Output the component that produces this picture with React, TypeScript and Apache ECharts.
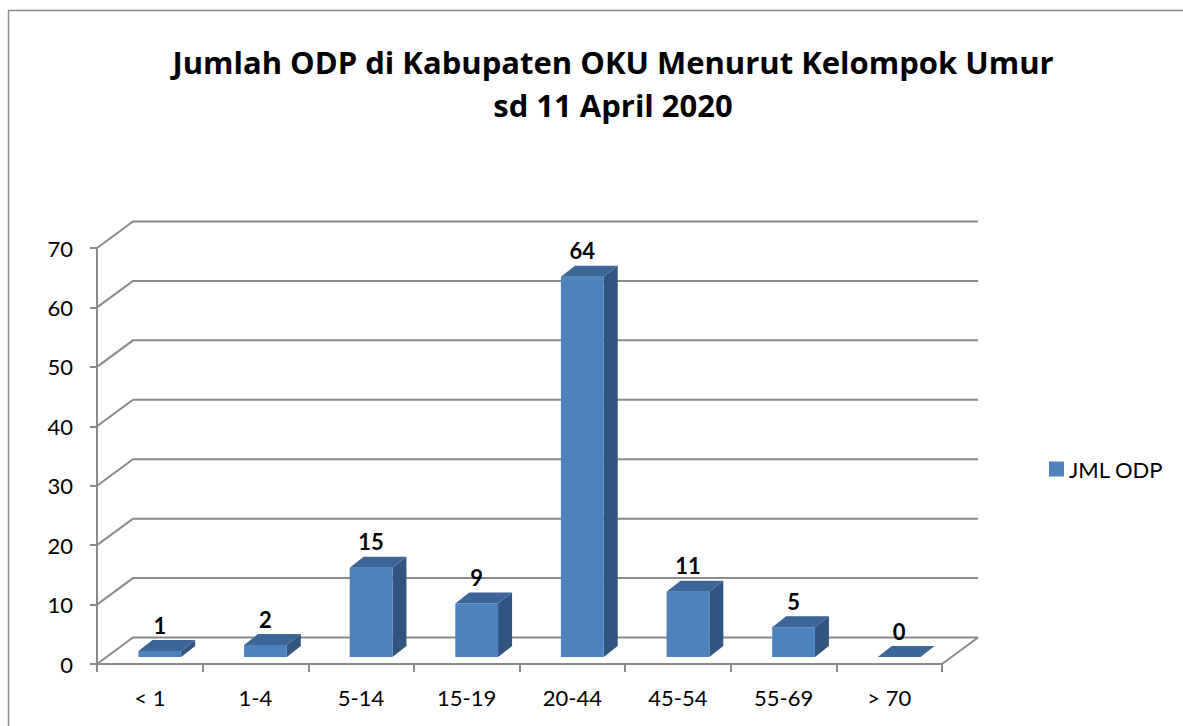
import React, { useEffect, useRef } from 'react';
import * as echarts from 'echarts';

const categories = ['< 1', '1-4', '5-14', '15-19', '20-44', '45-54', '55-69', '> 70'];
const values = [1, 2, 15, 9, 64, 11, 5, 0];
const yTicks = [0, 10, 20, 30, 40, 50, 60, 70];
const seriesName = 'JML ODP';
const titleLines = ['Jumlah ODP di Kabupaten OKU Menurut Kelompok Umur', 'sd 11 April 2020'];

export default function App() {
  const ref = useRef<HTMLDivElement>(null);
  useEffect(() => {
    const chart = echarts.init(ref.current!, null, { renderer: 'svg' });
    const DX = 36, DY = -26.5; // wall depth
    const FX = 10, FY = -7; // bar front-plane offset
    const BX = 14, BY = -11; // bar depth
    const grey = '#8a8a8a';
    const font = 'Lato, "Open Sans", sans-serif';
    const titleFont = '"Open Sans", Lato, sans-serif';
    const front = '#4f81bd';
    const topC = '#3d6698';
    const sideC = '#30557f';

    chart.setOption({
      animation: false,
      backgroundColor: '#ffffff',
      graphic: [
        {
          type: 'rect',
          shape: { x: 8.5, y: 10.5, width: 1400, height: 900 },
          style: { fill: 'none', stroke: grey, lineWidth: 1.5 },
          silent: true,
        },
        {
          type: 'text',
          x: 613,
          y: 62,
          style: {
            text: titleLines[0],
            textAlign: 'center',
            textVerticalAlign: 'middle',
            fontFamily: titleFont,
            fontWeight: 'bold',
            fontSize: 31,
            fill: '#000',
          },
        },
        {
          type: 'text',
          x: 613,
          y: 105,
          style: {
            text: titleLines[1],
            textAlign: 'center',
            textVerticalAlign: 'middle',
            fontFamily: titleFont,
            fontWeight: 'bold',
            fontSize: 31,
            fill: '#000',
          },
        },
      ],
      legend: {
        data: [seriesName],
        left: 1044,
        top: 453,
        icon: 'rect',
        itemWidth: 15,
        itemHeight: 15,
        itemGap: 5,
        textStyle: { fontFamily: font, fontSize: 22, color: '#000' },
      },
      grid: { left: 97, top: 248, width: 845, height: 416 },
      xAxis: {
        type: 'category',
        data: categories,
        boundaryGap: true,
        axisLine: { show: true, lineStyle: { color: grey, width: 2 } },
        axisTick: { show: true, length: 8, lineStyle: { color: grey, width: 2 } },
        axisLabel: { fontFamily: font, fontSize: 22, color: '#000', margin: 22 },
        splitLine: { show: false },
      },
      yAxis: {
        type: 'value',
        min: 0,
        max: 70,
        interval: 10,
        axisLine: { show: true, lineStyle: { color: grey, width: 2 } },
        axisTick: { show: true, length: 7, lineStyle: { color: grey, width: 2 } },
        axisLabel: { fontFamily: font, fontSize: 22, color: '#000', margin: 24 },
        splitLine: { show: false },
      },
      series: [
        {
          type: 'custom',
          name: 'grid3d',
          clip: false,
          z: 1,
          silent: true,
          data: yTicks.map((v) => [0, v]),
          renderItem: (params: any, api: any) => {
            const v = api.value(1);
            const y = api.coord([0, v])[1];
            const cs = params.coordSys;
            const x0 = cs.x;
            const x1 = cs.x + cs.width;
            const children: any[] = [
              {
                type: 'polyline',
                shape: { points: [[x0, y], [x0 + DX, y + DY], [x1 + DX, y + DY]] },
                style: { stroke: grey, lineWidth: 2, fill: 'none' },
              },
            ];
            if (v === 0) {
              children.push({
                type: 'line',
                shape: { x1: x1, y1: y, x2: x1 + DX, y2: y + DY },
                style: { stroke: grey, lineWidth: 2 },
              });
            }
            return { type: 'group', children };
          },
        },
        {
          type: 'custom',
          name: seriesName,
          clip: false,
          z: 5,
          itemStyle: { color: front },
          data: values.map((v, i) => [i, v]),
          renderItem: (params: any, api: any) => {
            const i = api.value(0);
            const v = api.value(1);
            const t = api.coord([i, v]);
            const b = api.coord([i, 0]);
            const w = api.size([1, 0])[0] * 0.405;
            const xl = t[0] - w / 2 + FX;
            const xr = xl + w;
            const yt = t[1] + FY;
            const yb = b[1] + FY;
            return {
              type: 'group',
              children: [
                {
                  type: 'polygon',
                  shape: { points: [[xr, yt], [xr + BX, yt + BY], [xr + BX, yb + BY], [xr, yb]] },
                  style: { fill: sideC },
                },
                {
                  type: 'rect',
                  shape: { x: xl, y: yt, width: w, height: yb - yt },
                  style: { fill: front },
                },
                {
                  type: 'polygon',
                  shape: { points: [[xl, yt], [xl + BX, yt + BY], [xr + BX, yt + BY], [xr, yt]] },
                  style: { fill: topC },
                },
                {
                  type: 'text',
                  x: (xl + xr) / 2,
                  y: yt + BY - 4,
                  style: {
                    text: String(v),
                    textAlign: 'center',
                    textVerticalAlign: 'bottom',
                    fontFamily: font,
                    fontWeight: 'bold',
                    fontSize: 22,
                    fill: '#000',
                  },
                },
              ],
            };
          },
        },
      ],
    });
    return () => chart.dispose();
  }, []);
  return (
    <div
      ref={ref}
      style={{ position: 'absolute', left: 0, top: 0, width: 1183, height: 726 }}
    />
  );
}
